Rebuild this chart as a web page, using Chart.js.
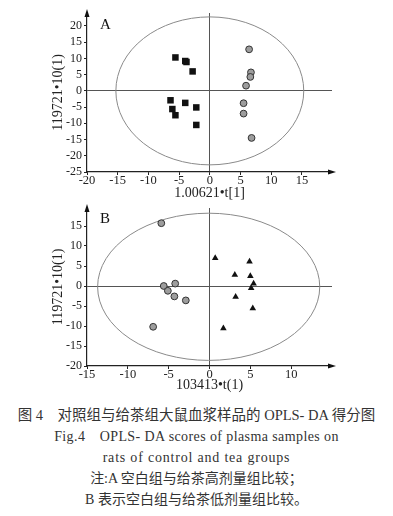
<!DOCTYPE html>
<html>
<head>
<meta charset="utf-8">
<script src="https://cdn.jsdelivr.net/npm/chart.js@4/dist/chart.umd.min.js"></script>
<style>
body{margin:0;background:#fff;width:393px;height:516px;overflow:hidden;position:relative;}
canvas{position:absolute;left:0;}
#chartA{top:0;}
#chartB{top:200px;}
.cap{position:absolute;left:0;width:393px;text-align:center;white-space:nowrap;line-height:1;
 font-family:"Liberation Serif","Noto Sans CJK SC",serif;font-size:14px;color:#333;}
.en{letter-spacing:0.4px;}
</style>
</head>
<body>
<canvas id="chartA" width="393" height="200"></canvas>
<canvas id="chartB" width="393" height="200"></canvas>
<div class="cap" style="top:408px;font-size:14.5px">图 4&emsp;对照组与给茶组大鼠血浆样品的 OPLS- DA 得分图</div>
<div class="cap en" style="top:430px">Fig.4&emsp;OPLS- DA scores of plasma samples on</div>
<div class="cap en" style="top:451px;letter-spacing:0.8px">rats of control and tea groups</div>
<div class="cap" style="top:472px">注:A 空白组与给茶高剂量组比较；</div>
<div class="cap" style="top:493px">B 表示空白组与给茶低剂量组比较。</div>
<script>
// ---- panel A: control (squares) vs high dose (circles)
const squaresAX = [-5.6, -4.0, -3.8, -2.8, -6.4, -6.1, -5.6, -4.0, -2.2, -2.2];
const squaresAY = [10.3, 9.2, 8.9, 6.0, -2.9, -5.6, -7.5, -3.7, -5.1, -10.5];
const circlesAX = [6.4, 6.7, 6.6, 5.9, 5.5, 5.5, 6.8];
const circlesAY = [12.8, 5.7, 4.3, 1.6, -3.8, -7.0, -14.5];
const ticksAX = [-20, -15, -10, -5, 0, 5, 10, 15];
const ticksAY = [-25, -20, -15, -10, -5, 0, 5, 10, 15, 20];
const ellipseA = [0, 0, 15.3, 22.8]; // cx, cy, rx, ry

// ---- panel B: control (circles) vs low dose (triangles)
const circlesBX = [-5.9, -5.6, -5.1, -4.2, -4.3, -2.9, -6.9];
const circlesBY = [15.7, 0, -1.2, 0.6, -2.6, -3.6, -10.2];
const trianglesBX = [0.7, 4.9, 3.1, 5.0, 5.4, 5.1, 3.2, 5.3, 1.7];
const trianglesBY = [7.0, 6.1, 2.8, 2.5, 0.6, -0.5, -2.7, -5.6, -10.6];
const ticksBX = [-15, -10, -5, 0, 5, 10];
const ticksBY = [-20, -15, -10, -5, 0, 5, 10, 15];
const ellipseB = [-0.1, -0.2, 13.6, 18.4];

const zip = (xs, ys) => xs.map((x, i) => ({x: x, y: ys[i]}));

const serif = "'Liberation Serif', 'Times New Roman', serif";

const squareStyle = {pointStyle: "rect", pointRadius: 4.6, backgroundColor: "#111", borderColor: "#111", borderWidth: 0};
const circleStyle = {pointStyle: "circle", pointRadius: 3.4, backgroundColor: "#9d9d9d", borderColor: "#333", borderWidth: 1};
const triangleStyle = {pointStyle: "triangle", pointRadius: 3.8, backgroundColor: "#111", borderColor: "#111", borderWidth: 0};

// confidence ellipse + axis arrows + panel letter
const extras = {
  id: "extras",
  beforeDatasetsDraw(chart, args, opts) {
    const {ctx} = chart;
    const xs = chart.scales.x, ys = chart.scales.y;
    const e = opts.ellipse;
    const cx = xs.getPixelForValue(e[0]), cy = ys.getPixelForValue(e[1]);
    const rx = Math.abs(xs.getPixelForValue(e[0] + e[2]) - cx);
    const ry = Math.abs(ys.getPixelForValue(e[1] + e[3]) - cy);
    ctx.save();
    ctx.strokeStyle = "#8a8a8a";
    ctx.lineWidth = 1;
    ctx.beginPath();
    ctx.ellipse(cx, cy, rx, ry, 0, 0, Math.PI * 2);
    ctx.stroke();
    ctx.restore();
  },
  afterDraw(chart, args, opts) {
    const {ctx, chartArea: a} = chart;
    ctx.save();
    ctx.fillStyle = "#111";
    ctx.beginPath();
    ctx.moveTo(a.left, a.top - 4);
    ctx.lineTo(a.left - 2.5, a.top + 4);
    ctx.lineTo(a.left + 2.5, a.top + 4);
    ctx.fill();
    ctx.beginPath();
    ctx.moveTo(a.right + 4, a.bottom);
    ctx.lineTo(a.right - 4, a.bottom - 2.5);
    ctx.lineTo(a.right - 4, a.bottom + 2.5);
    ctx.fill();
    ctx.font = "15px " + serif;
    ctx.textBaseline = "middle";
    ctx.fillText(opts.letter, a.left + 13, a.top + opts.letterDy);
    ctx.restore();
  }
};

function makeChart(id, datasets, o) {
  new Chart(document.getElementById(id), {
    type: "scatter",
    data: {datasets: datasets},
    options: {
      responsive: false,
      animation: false,
      layout: {padding: {top: o.top, right: 61, left: 0, bottom: 0}},
      plugins: {
        legend: {display: false},
        tooltip: {enabled: false},
        extras: {ellipse: o.ellipse, letter: o.letter, letterDy: o.letterDy}
      },
      scales: {
        x: {
          min: o.xMin, max: o.xMax,
          afterBuildTicks: s => { s.ticks = o.xTicks.map(v => ({value: v})); },
          afterFit: s => { s.height = o.xh; },
          grid: {
            color: c => (c.tick && c.tick.value === 0) ? "#555" : "rgba(0,0,0,0)",
            tickColor: "#222", tickLength: 3
          },
          border: {display: true, color: "#222", width: 1.2},
          ticks: {color: "#222", padding: -1, autoSkip: false, maxRotation: 0,
                  font: {family: serif, size: 12.5, lineHeight: 1}},
          title: {display: true, text: o.xTitle, color: "#222",
                  font: {family: serif, size: 14, lineHeight: 1}, padding: {top: 0, bottom: o.xTitlePad}}
        },
        y: {
          min: o.yMin, max: o.yMax,
          afterBuildTicks: s => { s.ticks = o.yTicks.map(v => ({value: v})); },
          afterFit: s => { s.width = 87; },
          grid: {
            color: c => (c.tick && c.tick.value === 0) ? "#555" : "rgba(0,0,0,0)",
            tickColor: "#222", tickLength: 3
          },
          border: {display: true, color: "#222", width: 1.2},
          ticks: {color: "#222", padding: 2, autoSkip: false,
                  font: {family: serif, size: 12, lineHeight: 1}},
          title: {display: true, text: "119721\u202210(1)", color: "#222",
                  font: {family: serif, size: 14, lineHeight: 1}, padding: {top: 51, bottom: 0}}
        }
      }
    },
    plugins: [extras]
  });
}

makeChart("chartA", [
  Object.assign({data: zip(squaresAX, squaresAY)}, squareStyle),
  Object.assign({data: zip(circlesAX, circlesAY)}, circleStyle)
], {
  top: 13, xh: 28, xMin: -20, xMax: 19.9, yMin: -25, yMax: 24,
  xTicks: ticksAX, yTicks: ticksAY, ellipse: ellipseA,
  xTitle: "1.00621\u2022t[1]", xTitlePad: 0, letter: "A", letterDy: 12
});

makeChart("chartB", [
  Object.assign({data: zip(circlesBX, circlesBY)}, circleStyle),
  Object.assign({data: zip(trianglesBX, trianglesBY)}, triangleStyle)
], {
  top: 5, xh: 34, xMin: -15, xMax: 15, yMin: -20, yMax: 19.5,
  xTicks: ticksBX, yTicks: ticksBY, ellipse: ellipseB,
  xTitle: "103413\u2022t(1)", xTitlePad: 8, letter: "B", letterDy: 11
});
</script>
</body>
</html>
